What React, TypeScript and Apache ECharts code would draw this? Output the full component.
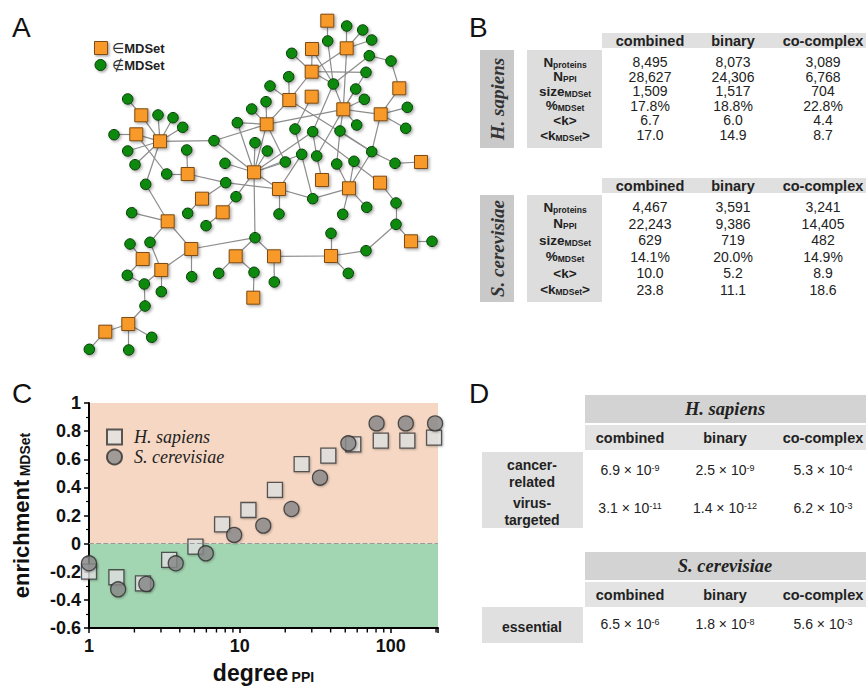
import React, { useEffect, useRef } from "react";
import * as echarts from "echarts";

const SANS = '"Liberation Sans", Arial, Helvetica, sans-serif';
const SERIF = '"Liberation Serif", "Times New Roman", Times, serif';

// ---------------- Panel A: example network ----------------
// [id, x, y] (layout positions of the drawing)
const mdsetNodes: [string, number, number][] = [
  ["s1", 327.3, 20.7], ["s2", 346.7, 48.3], ["s3", 312, 49], ["s4", 311.7, 71.7],
  ["s5", 399.3, 88.3], ["s6", 311.7, 96.7], ["s7", 289.3, 100], ["s8", 343.3, 109.3],
  ["s9", 380.7, 114.3], ["s10", 266.7, 124.3], ["s11", 254, 172.3], ["s12", 421, 162],
  ["s13", 322, 180], ["s14", 279, 189], ["s15", 349, 188.3], ["s16", 380, 182.7],
  ["s17", 141.3, 115.3], ["s18", 136.3, 134.3], ["s19", 160, 141.3], ["s20", 187.7, 174],
  ["s21", 202, 198.7], ["s22", 222.7, 212.3], ["s23", 167.7, 221.3], ["s24", 142.7, 259],
  ["s25", 191.3, 249], ["s26", 161.3, 270], ["s27", 128.3, 324], ["s28", 105.3, 331.7],
  ["s29", 235.7, 256.3], ["s30", 274, 256.3], ["s31", 253.3, 297.7], ["s32", 331, 256],
  ["s33", 411, 241.3],
];
const otherNodes: [string, number, number][] = [
  ["c1", 346.7, 26], ["c2", 362.7, 30], ["c3", 371.7, 40], ["c4", 327.7, 41],
  ["c5", 291.7, 53.3], ["c6", 369.3, 55.7], ["c7", 391, 61], ["c8", 366, 72.3],
  ["c9", 288.7, 76.7], ["c10", 333.3, 84], ["c11", 270, 86], ["c12", 355.7, 89],
  ["c13", 364.3, 99.3], ["c14", 266, 101.7], ["c15", 407.3, 107.3], ["c16", 251.7, 109],
  ["c17", 356.7, 125], ["c18", 237.3, 122.7], ["c19", 405.7, 128.3], ["c20", 295, 129],
  ["c21", 312.7, 131.7], ["c22", 340, 131], ["c23", 255, 142.7], ["c24", 214, 140.7],
  ["c25", 267.3, 151], ["c26", 301.7, 154.3], ["c27", 316.7, 156], ["c28", 371.7, 151.7],
  ["c29", 225, 163.3], ["c30", 285.3, 162], ["c31", 336.7, 164], ["c32", 354, 161.3],
  ["c33", 395, 163.3], ["c34", 225.7, 182.7], ["c35", 236, 196.7], ["c36", 312.7, 198.7],
  ["c37", 396, 203], ["c38", 279, 214], ["c39", 342.7, 214.3], ["c40", 366.7, 207.3],
  ["c41", 127.7, 99], ["c42", 158, 115], ["c43", 173, 117.7], ["c44", 182.7, 127.3],
  ["c45", 114, 134.7], ["c46", 127.7, 151], ["c47", 135, 164.7], ["c48", 186.7, 150],
  ["c49", 166.7, 174], ["c50", 145.7, 184.3], ["c51", 187.7, 213.3], ["c52", 206, 225.7],
  ["c53", 131.7, 212.7], ["c54", 150, 242.3], ["c55", 130, 244], ["c56", 127.3, 275.3],
  ["c57", 144.3, 284], ["c58", 191.7, 276.7], ["c59", 161.3, 291.7], ["c60", 145, 306],
  ["c61", 151.7, 337.3], ["c62", 89.3, 349.3], ["c63", 128.7, 350], ["c64", 255, 237.7],
  ["c65", 218.7, 273.3], ["c66", 254, 272.3], ["c67", 274.3, 282], ["c68", 331, 233.3],
  ["c69", 348.3, 273.3], ["c70", 366, 250.7], ["c71", 396, 224.3], ["c72", 432, 241.3],
];
const networkEdges: [string, string][] = [
  ["s1", "c4"], ["c4", "c10"], ["s3", "s4"], ["s3", "c10"],
  ["s2", "c1"], ["s2", "c2"], ["s2", "c3"], ["s2", "s4"], ["s2", "s8"],
  ["c6", "c7"], ["c6", "c10"], ["c7", "s5"], ["s5", "s9"],
  ["s4", "c5"], ["s4", "c8"], ["s4", "s7"], ["s4", "c10"],
  ["c10", "s8"], ["c8", "s8"], ["c12", "s8"], ["c13", "s8"], ["s8", "s9"], ["s8", "c17"], ["s8", "s10"], ["s8", "c27"],
  ["c10", "c21"], ["s6", "c20"],
  ["s7", "c11"], ["s7", "c9"], ["s7", "s10"], ["s7", "c28"],
  ["s10", "c14"], ["s10", "c16"], ["s10", "c18"], ["s10", "c24"], ["s10", "s11"], ["s10", "c30"],
  ["s9", "c15"], ["s9", "c19"], ["s9", "c28"],
  ["c22", "s8"], ["c22", "c31"], ["c22", "c28"],
  ["c21", "s11"], ["c21", "c27"], ["c21", "s16"],
  ["c26", "s11"], ["c26", "s14"], ["c27", "s13"], ["c31", "s15"], ["c32", "s15"],
  ["s14", "c36"], ["c36", "s15"], ["c20", "c36"],
  ["s11", "c23"], ["s11", "c25"], ["s11", "c29"], ["s11", "c24"], ["s11", "s14"], ["s11", "c35"], ["s11", "c64"], ["s11", "c18"], ["s11", "c30"],
  ["s14", "c38"], ["s14", "c34"], ["s15", "c39"], ["s15", "c40"], ["s15", "c28"],
  ["c28", "c33"], ["c33", "s12"], ["s16", "c37"], ["c37", "c71"], ["c71", "s33"], ["s33", "c72"], ["c71", "c70"], ["c70", "s32"],
  ["s32", "c68"], ["s32", "c69"], ["s32", "s30"], ["s30", "c64"], ["s30", "c67"], ["c64", "s29"], ["c64", "s25"],
  ["s29", "c65"], ["s29", "c66"], ["c66", "s31"],
  ["c41", "s17"], ["s17", "s19"], ["s19", "c42"], ["s19", "c43"], ["s19", "c44"], ["c45", "s18"], ["s18", "s19"], ["s18", "c49"],
  ["s19", "c46"], ["s19", "c47"], ["s19", "c50"], ["s19", "c24"],
  ["c48", "s20"], ["c49", "s20"], ["s20", "c34"], ["c34", "s21"], ["s21", "c51"], ["c35", "s22"], ["s22", "c52"],
  ["c50", "s23"], ["c53", "s23"], ["s23", "c54"], ["s23", "s25"], ["c54", "s26"], ["s25", "s26"], ["s25", "c58"],
  ["c55", "s24"], ["s24", "c56"], ["c56", "c57"], ["c57", "s26"], ["s26", "c59"], ["c57", "c60"], ["c60", "s27"],
  ["s27", "s28"], ["s27", "c61"], ["s27", "c63"], ["s28", "c62"],
];

// ---------------- Panel B: network statistics ----------------
const networkTypes = ["combined", "binary", "co-complex"];
const statLabels = [
  "{m|N}{s|proteins}",
  "{m|N}{s|PPI}",
  "{m|size}{s|MDSet}",
  "{m|%}{s|MDSet}",
  "{m|<k>}",
  "{m|<k}{s|MDSet}{m|>}",
];
const hsStats = [
  ["8,495", "8,073", "3,089"],
  ["28,627", "24,306", "6,768"],
  ["1,509", "1,517", "704"],
  ["17.8%", "18.8%", "22.8%"],
  ["6.7", "6.0", "4.4"],
  ["17.0", "14.9", "8.7"],
];
const scStats = [
  ["4,467", "3,591", "3,241"],
  ["22,243", "9,386", "14,405"],
  ["629", "719", "482"],
  ["14.1%", "20.0%", "14.9%"],
  ["10.0", "5.2", "8.9"],
  ["23.8", "11.1", "18.6"],
];

// ---------------- Panel C: enrichment vs degree ----------------
const hsDegree = [1, 1.52, 2.28, 3.4, 5.08, 7.63, 11.4, 17.1, 25.7, 38.6, 56.5, 86, 129, 194];
const hsEnrichment = [-0.199, -0.239, -0.282, -0.116, -0.021, 0.137, 0.239, 0.382, 0.566, 0.626, 0.706, 0.732, 0.732, 0.754];
const scDegree = [1, 1.56, 2.4, 3.76, 5.95, 9.17, 14.3, 22, 34, 52.4, 80.7, 126, 197];
const scEnrichment = [-0.14, -0.325, -0.287, -0.14, -0.069, 0.062, 0.128, 0.246, 0.469, 0.713, 0.855, 0.855, 0.855];
const xMinorTicks = [2, 3, 4, 5, 6, 7, 8, 9, 20, 30, 40, 50, 60, 70, 80, 90, 200];

// ---------------- Panel D: p-values ----------------
const hsTraits = ["cancer-\nrelated", "virus-\ntargeted"];
const hsMantissa = [[6.9, 2.5, 5.3], [3.1, 1.4, 6.2]];
const hsExponent = [[-9, -9, -4], [-11, -12, -3]];
const scTraits = ["essential"];
const scMantissa = [[6.5, 1.8, 5.6]];
const scExponent = [[-6, -8, -3]];

function txt(x: number, y: number, text: string, o: any = {}) {
  const align = o.align || "center";
  const valign = o.valign || "middle";
  return {
    type: "text",
    x,
    y,
    rotation: o.rotation || 0,
    silent: true,
    z: 10,
    style: {
      text,
      fontSize: o.size || 13,
      fontWeight: o.weight || "normal",
      fontFamily: o.family || SANS,
      fontStyle: o.fstyle || "normal",
      fill: o.color || "#222",
      align,
      verticalAlign: valign,
      textAlign: align,
      textVerticalAlign: valign,
      lineHeight: o.lineHeight,
      rich: o.rich,
    },
  };
}
function box(x: number, y: number, w: number, h: number, color: string) {
  return { type: "rect", silent: true, z: 5, shape: { x, y, width: w, height: h }, style: { fill: color } };
}

function buildGraphic() {
  const g: any[] = [];
  // panel letters
  ([["A", 12, 27], ["B", 469, 27], ["C", 12, 393], ["D", 469, 393]] as [string, number, number][]).forEach(([t, x, y]) =>
    g.push(txt(x, y, t, { size: 28, align: "left", color: "#111" }))
  );

  // Panel A legend
  const shadow = { shadowBlur: 2, shadowOffsetX: 1.5, shadowOffsetY: 1.5, shadowColor: "rgba(0,0,0,0.35)" };
  g.push({ type: "rect", silent: true, z: 10, shape: { x: 94.5, y: 41.5, width: 13, height: 13 }, style: { fill: "#f89a2c", stroke: "#7b4b14", lineWidth: 1, ...shadow } });
  g.push({ type: "circle", silent: true, z: 10, shape: { cx: 100.5, cy: 65, r: 5.5 }, style: { fill: "#0e8a0e", stroke: "#063d06", lineWidth: 1, ...shadow } });
  const legRich = {
    r: { fontSize: 14, fontFamily: "DejaVu Sans, sans-serif", fill: "#333" },
    b: { fontSize: 13, fontWeight: "bold", fontFamily: SANS, fill: "#222" },
  };
  g.push(txt(112, 48, "{r|∈}{b|MDSet}", { align: "left", rich: legRich }));
  g.push(txt(112, 65, "{r|∉}{b|MDSet}", { align: "left", rich: legRich }));

  // Panel B tables
  const bCols = [650, 733, 823];
  const rowRich = {
    m: { fontSize: 13.5, fontWeight: "bold", fontFamily: SANS, fill: "#222" },
    s: { fontSize: 8.5, fontWeight: "bold", fontFamily: SANS, fill: "#222", verticalAlign: "bottom" },
  };
  const statsTable = (bandTop: number, boxTop: number, boxBottom: number, firstRow: number, rowGap: number, species: string, stats: string[][]) => {
    g.push(box(602, bandTop, 264, 15, "#e0e0e0"));
    networkTypes.forEach((t, j) => g.push(txt(bCols[j], bandTop + 8, t, { size: 14.5, weight: "bold" })));
    g.push(box(480, boxTop, 34, boxBottom - boxTop, "#c9c9c9"));
    g.push(box(527, boxTop, 75, boxBottom - boxTop, "#dddddd"));
    g.push(txt(497, (boxTop + boxBottom) / 2, species, { size: 19, weight: "bold", fstyle: "italic", family: SERIF, rotation: Math.PI / 2, color: "#333" }));
    statLabels.forEach((lab, i) => {
      const y = firstRow + i * rowGap;
      g.push(txt(565, y, lab, { rich: rowRich }));
      stats[i].forEach((v, j) => g.push(txt(bCols[j], y, v, { size: 14 })));
    });
  };
  statsTable(33, 50, 148, 62, 14.6, "H. sapiens", hsStats);
  statsTable(178, 195, 302, 207, 16.5, "S. cerevisiae", scStats);

  // Panel D tables
  const dCols = [630, 725, 823];
  const valRich = {
    v: { fontSize: 14, fontFamily: SANS, fill: "#222" },
    e: { fontSize: 9, fontFamily: SANS, fill: "#222", verticalAlign: "top" },
  };
  const pTable = (bandTop: number, species: string, traits: string[], mant: number[][], expo: number[][], boxTop: number, boxBottom: number, rowYs: number[]) => {
    g.push(box(585, bandTop, 281, 28, "#d3d3d3"));
    g.push(txt(725, bandTop + 14, species, { size: 18.5, weight: "bold", fstyle: "italic", family: SERIF, color: "#222" }));
    g.push(box(585, bandTop + 30, 281, 25, "#e3e3e3"));
    networkTypes.forEach((t, j) => g.push(txt(dCols[j], bandTop + 43, t, { size: 14.5, weight: "bold" })));
    g.push(box(482, boxTop, 101, boxBottom - boxTop, "#e0e0e0"));
    traits.forEach((t, i) => {
      g.push(txt(532, rowYs[i] + 3, t, { size: 14, weight: "bold", lineHeight: 17 }));
      mant[i].forEach((m, j) =>
        g.push(txt(dCols[j], rowYs[i], `{v|${m.toFixed(1)} × 10}{e|${expo[i][j]}}`, { rich: valRich }))
      );
    });
  };
  pTable(395, "H. sapiens", hsTraits, hsMantissa, hsExponent, 452, 528, [470, 508]);
  pTable(552, "S. cerevisiae", scTraits, scMantissa, scExponent, 607, 643, [624]);

  return g;
}

function buildOption() {
  const nodeShadow = { shadowBlur: 3, shadowOffsetX: 1.5, shadowOffsetY: 1.5, shadowColor: "rgba(0,0,0,0.35)" };
  const sqStyle = { color: "#f89a2c", borderColor: "#7b4b14", borderWidth: 1, ...nodeShadow };
  const ciStyle = { color: "#0e8a0e", borderColor: "#063d06", borderWidth: 1, ...nodeShadow };
  const nodes = [
    ...mdsetNodes.map(([id, x, y]) => ({ name: id, value: [x, y], symbol: "rect", symbolSize: 13, itemStyle: sqStyle })),
    ...otherNodes.map(([id, x, y]) => ({ name: id, value: [x, y], symbol: "circle", symbolSize: 10.5, itemStyle: ciStyle })),
  ];
  const links = networkEdges.map(([s, t]) => ({ source: s, target: t }));

  const axisLabelBase = { fontFamily: SANS, fontWeight: "bold", fontSize: 18, color: "#111" };
  const isPow10 = (v: number) => {
    const l = Math.log10(v);
    return Math.abs(l - Math.round(l)) < 1e-6;
  };

  return {
    animation: false,
    backgroundColor: "#ffffff",
    textStyle: { fontFamily: SANS },
    grid: [
      { left: 89, top: 403, width: 349, height: 225 },
      { left: 0, top: 0, width: 866, height: 692 },
    ],
    xAxis: [
      {
        type: "log",
        logBase: 10,
        gridIndex: 0,
        min: 1,
        max: 206,
        z: 3,
        axisLine: { show: true, onZero: false, lineStyle: { color: "#000", width: 2 } },
        axisTick: { show: true, length: 5, lineStyle: { color: "#000", width: 1.5 } },
        axisLabel: { ...axisLabelBase, margin: 9, formatter: (v: number) => (isPow10(v) ? String(Math.round(v)) : "") },
        splitLine: { show: false },
        name: "{a|degree} {b|PPI}",
        nameLocation: "middle",
        nameGap: 33,
        nameTextStyle: {
          rich: {
            a: { fontSize: 23, fontWeight: "bold", fontFamily: SANS, color: "#111" },
            b: { fontSize: 14, fontWeight: "bold", fontFamily: SANS, color: "#111", verticalAlign: "bottom" },
          },
        },
      },
      { type: "value", gridIndex: 1, min: 0, max: 866, show: false },
    ],
    yAxis: [
      {
        type: "value",
        gridIndex: 0,
        min: -0.6,
        max: 1,
        interval: 0.2,
        z: 3,
        axisLine: { show: true, lineStyle: { color: "#000", width: 2 } },
        axisTick: { show: true, length: 5, lineStyle: { color: "#000", width: 1.5 } },
        minorTick: { show: true, splitNumber: 2, length: 3, lineStyle: { color: "#000", width: 1.2 } },
        splitLine: { show: false },
        axisLabel: { ...axisLabelBase, margin: 8, formatter: (v: number) => String(Math.round(v * 10) / 10) },
        name: "{a|enrichment} {b|MDSet}",
        nameLocation: "middle",
        nameRotate: 90,
        nameGap: 57,
        nameTextStyle: {
          rich: {
            a: { fontSize: 22, fontWeight: "bold", fontFamily: SANS, color: "#111" },
            b: { fontSize: 14, fontWeight: "bold", fontFamily: SANS, color: "#111", verticalAlign: "bottom" },
          },
        },
      },
      { type: "value", gridIndex: 1, min: 0, max: 692, inverse: true, show: false },
    ],
    legend: {
      data: ["H. sapiens", "S. cerevisiae"],
      orient: "vertical",
      left: 106,
      top: 428,
      padding: 0,
      itemWidth: 15,
      itemHeight: 15,
      itemGap: 2,
      textStyle: { fontFamily: SERIF, fontStyle: "italic", fontSize: 18, color: "#222", padding: [0, 0, 0, 7] },
    },
    graphic: buildGraphic(),
    series: [
      {
        type: "graph",
        layout: "none",
        coordinateSystem: "cartesian2d",
        xAxisIndex: 1,
        yAxisIndex: 1,
        data: nodes,
        links,
        lineStyle: { color: "#8c8c8c", width: 1.2, opacity: 1 },
        label: { show: false },
        silent: true,
        z: 3,
      },
      {
        type: "custom",
        name: "minor ticks",
        xAxisIndex: 0,
        yAxisIndex: 0,
        z: 1,
        silent: true,
        clip: false,
        data: xMinorTicks.map((v) => [v, -0.6]),
        renderItem: (_p: any, api: any) => {
          const pt = api.coord([api.value(0), api.value(1)]);
          return { type: "line", shape: { x1: pt[0], y1: pt[1], x2: pt[0], y2: pt[1] + 4.5 }, style: { stroke: "#000", lineWidth: 1.4 } };
        },
        markArea: {
          silent: true,
          data: [
            [{ yAxis: 0, itemStyle: { color: "#f6d7c3" } }, { yAxis: 1 }],
            [{ yAxis: -0.6, itemStyle: { color: "#a2d5b1" } }, { yAxis: 0 }],
          ],
        },
        markLine: {
          silent: true,
          symbol: "none",
          label: { show: false },
          lineStyle: { color: "#9a9a9a", type: "dashed", width: 1.2 },
          data: [{ yAxis: 0 }],
        },
      },
      {
        type: "scatter",
        name: "H. sapiens",
        xAxisIndex: 0,
        yAxisIndex: 0,
        z: 4,
        clip: false,
        symbol: "rect",
        symbolSize: 15,
        itemStyle: { color: "#e3e3e3", borderColor: "#333", borderWidth: 1.3, shadowBlur: 2, shadowOffsetX: 1, shadowOffsetY: 1, shadowColor: "rgba(0,0,0,0.3)" },
        data: hsDegree.map((d, i) => [d, hsEnrichment[i]]),
      },
      {
        type: "scatter",
        name: "S. cerevisiae",
        xAxisIndex: 0,
        yAxisIndex: 0,
        z: 4,
        clip: false,
        symbol: "circle",
        symbolSize: 15,
        itemStyle: { color: "#8c8c8c", borderColor: "#2e2e2e", borderWidth: 1.3, shadowBlur: 2, shadowOffsetX: 1, shadowOffsetY: 1, shadowColor: "rgba(0,0,0,0.3)" },
        data: scDegree.map((d, i) => [d, scEnrichment[i]]),
      },
    ],
  };
}

export default function App() {
  const ref = useRef<HTMLDivElement>(null);
  useEffect(() => {
    if (!ref.current) return;
    const chart = echarts.init(ref.current, undefined, { renderer: "svg" });
    chart.setOption(buildOption() as any);
    return () => {
      chart.dispose();
    };
  }, []);
  return (
    <div
      ref={ref}
      style={{ position: "absolute", left: 0, top: 0, width: 866, height: 692, background: "#ffffff" }}
    />
  );
}
